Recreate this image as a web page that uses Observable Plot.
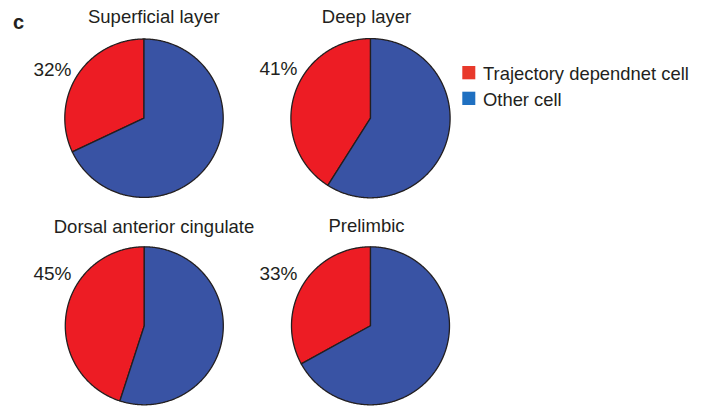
<!DOCTYPE html>
<html><head><meta charset="utf-8">
<script src="https://cdn.jsdelivr.net/npm/d3@7"></script>
<script src="https://cdn.jsdelivr.net/npm/@observablehq/plot@0.6"></script>
<style>body{margin:0;background:#fff} svg{display:block}</style>
</head><body><div id="chart"></div>
<script>
// ---- data ----
const regions = ["Superficial layer", "Deep layer", "Dorsal anterior cingulate", "Prelimbic"];
const trajectoryPct = [32, 41, 45, 33];
const percentLabels = ["32%", "41%", "45%", "33%"];
const seriesNames = ["Trajectory dependnet cell", "Other cell"];
const panelLetter = "c";

// ---- layout / style ----
const pieColors = ["#ED1C24", "#3953A4"];
const legendColors = ["#E8392B", "#1F70C1"];
const ink = "#231f20";
const font = "Liberation Sans, Arial, Helvetica, sans-serif";
const panels = [
  {cx: 143.5, cy: 117.7, r: 79.2, tx: 153.3, ty: 22.7, lx: 71, ly: 75},
  {cx: 370, cy: 117.7, r: 79.6, tx: 366, ty: 22.7, lx: 297, ly: 74.5},
  {cx: 143.8, cy: 325.3, r: 79, tx: 153.5, ty: 232, lx: 71, ly: 279},
  {cx: 370, cy: 325.3, r: 79, tx: 366, ty: 231, lx: 297, ly: 279}
];
const legendLayout = {x1: 462.3, x2: 475.3, ys: [66, 91.7], size: 13.3, textX: 482.5, baselines: [79.3, 105]};

// ---- slice geometry from values ----
const slicePts = [];
regions.forEach((name, i) => {
  const p = panels[i];
  const f = trajectoryPct[i] / 100;
  const spans = [[-f * 360, 0], [0, 360 - f * 360]];
  spans.forEach(([a0, a1], k) => {
    const id = name + "|" + k;
    const pts = [{x: p.cx, y: p.cy}];
    const n = Math.max(2, Math.ceil((a1 - a0) * 2));
    for (let j = 0; j <= n; j++) {
      const a = (a0 + (a1 - a0) * j / n) * Math.PI / 180;
      pts.push({x: p.cx + p.r * Math.sin(a), y: p.cy - p.r * Math.cos(a)});
    }
    pts.push({x: p.cx, y: p.cy});
    pts.forEach(q => slicePts.push({...q, id, color: pieColors[k]}));
  });
});

const titles = regions.map((t, i) => ({t, x: panels[i].tx, y: panels[i].ty}));
const pcts = percentLabels.map((t, i) => ({t, x: panels[i].lx, y: panels[i].ly}));
const legendRects = seriesNames.map((s, i) => ({s, x1: legendLayout.x1, x2: legendLayout.x2, y1: legendLayout.ys[i], y2: legendLayout.ys[i] + legendLayout.size, color: legendColors[i]}));
const legendTexts = seriesNames.map((s, i) => ({s, x: legendLayout.textX, y: legendLayout.baselines[i]}));

const chart = Plot.plot({
  width: 704, height: 407, margin: 0,
  style: {fontFamily: font, background: "#fff", overflow: "visible"},
  x: {domain: [0, 704], range: [0, 704], axis: null},
  y: {domain: [0, 407], range: [0, 407], axis: null},
  color: {type: "identity"},
  marks: [
    Plot.line(slicePts, {x: "x", y: "y", z: "id", fill: "color", stroke: ink, strokeWidth: 1.3, strokeLinejoin: "round", curve: "linear"}),
    Plot.text(titles, {x: "x", y: "y", text: "t", fontSize: 18.5, textAnchor: "middle", lineAnchor: "bottom", fill: ink}),
    Plot.text(pcts, {x: "x", y: "y", text: "t", fontSize: 19, textAnchor: "end", lineAnchor: "bottom", fill: ink}),
    Plot.rect(legendRects, {x1: "x1", x2: "x2", y1: "y1", y2: "y2", fill: "color"}),
    Plot.text(legendTexts, {x: "x", y: "y", text: "s", fontSize: 18.4, textAnchor: "start", lineAnchor: "bottom", fill: ink}),
    Plot.text([panelLetter], {x: () => 12.5, y: () => 28, text: d => d, fontSize: 20, fontWeight: "bold", textAnchor: "start", lineAnchor: "bottom", fill: ink})
  ]
});
document.getElementById("chart").append(chart);
</script>
</body></html>
